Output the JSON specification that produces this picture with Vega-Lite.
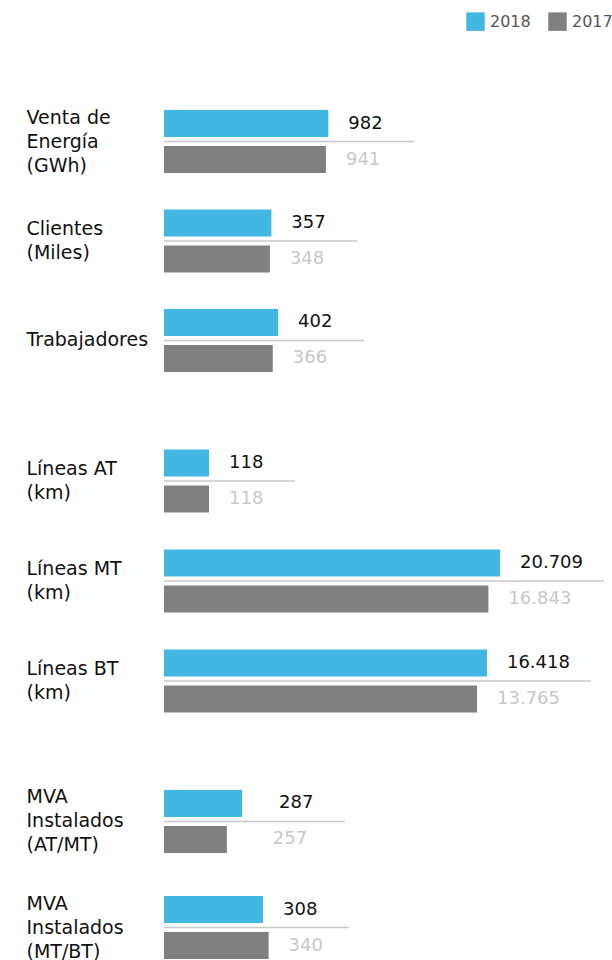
{
  "$schema": "https://vega.github.io/schema/vega-lite/v6.json",
  "padding": {"left": 26, "top": 12, "right": 0, "bottom": 0},
  "background": "white",
  "bounds": "flush",
  "spacing": 77.5,
  "data": {
    "values": [
      {"group": 1, "cat": "Venta de|Energía|(GWh)", "year": "2018", "value": 982, "barValue": 982},
      {"group": 1, "cat": "Venta de|Energía|(GWh)", "year": "2017", "value": 941, "barValue": 941},
      {"group": 1, "cat": "Clientes|(Miles)", "year": "2018", "value": 357, "barValue": 357},
      {"group": 1, "cat": "Clientes|(Miles)", "year": "2017", "value": 348, "barValue": 348},
      {"group": 1, "cat": "Trabajadores", "year": "2018", "value": 402, "barValue": 402},
      {"group": 1, "cat": "Trabajadores", "year": "2017", "value": 366, "barValue": 366},
      {"group": 2, "cat": "Líneas AT|(km)", "year": "2018", "value": 118, "barValue": 118},
      {"group": 2, "cat": "Líneas AT|(km)", "year": "2017", "value": 118, "barValue": 118},
      {"group": 2, "cat": "Líneas MT|(km)", "year": "2018", "value": 20709, "barValue": 20709},
      {"group": 2, "cat": "Líneas MT|(km)", "year": "2017", "value": 16843, "barValue": 16843},
      {"group": 2, "cat": "Líneas BT|(km)", "year": "2018", "value": 16418, "barValue": 16418},
      {"group": 2, "cat": "Líneas BT|(km)", "year": "2017", "value": 13765, "barValue": 13765},
      {"group": 3, "cat": "MVA|Instalados|(AT/MT)", "year": "2018", "value": 287, "barValue": 212},
      {"group": 3, "cat": "MVA|Instalados|(AT/MT)", "year": "2017", "value": 257, "barValue": 162},
      {"group": 3, "cat": "MVA|Instalados|(MT/BT)", "year": "2018", "value": 308, "barValue": 308},
      {"group": 3, "cat": "MVA|Instalados|(MT/BT)", "year": "2017", "value": 340, "barValue": 340}
    ]
  },
  "vconcat": [
    {
      "width": 440,
      "height": 262,
      "transform": [{"filter": "datum.group == 1"}],
      "encoding": {
        "y": {"field": "cat", "type": "nominal", "sort": null, "scale": {"paddingInner": 0.3668, "paddingOuter": 0},
          "axis": {"title": null, "domain": false, "ticks": false, "labelAlign": "left", "labelBaseline": "middle", "labelPadding": 138, "labelFont": "DejaVu Sans", "labelFontSize": 19, "labelColor": "#111111", "labelLineHeight": 24, "labelExpr": "split(datum.value, '|')", "labelLimit": 0, "labelOffset": {"expr": "-(length(split(datum.value, '|')) - 1) * 12"}}}
      },
      "layer": [
        {
          "mark": {"type": "bar", "height": 27},
          "encoding": {
            "x": {"field": "barValue", "type": "quantitative", "scale": {"type": "log", "domain": [53.06, 131200], "nice": false}, "axis": null},
            "x2": {"value": 0},
            "yOffset": {"value": 0},
            "color": {"field": "year", "type": "nominal", "sort": ["2018", "2017"], "scale": {"domain": ["2018", "2017"], "range": ["#42B7E3", "#808080"]},
              "legend": {"title": null, "orient": "none", "legendX": 302, "legendY": -98, "direction": "horizontal", "symbolType": "square", "symbolSize": 342, "symbolStrokeWidth": 0, "labelFont": "DejaVu Sans", "labelFontSize": 16, "labelColor": "#555555", "labelOffset": 5, "columnPadding": 17}},
            "opacity": {"value": 0}
          }
        },
        {
          "transform": [{"filter": "datum.year == '2018'"}],
          "mark": {"type": "rule", "strokeWidth": 27, "strokeCap": "butt", "yOffset": -18, "color": "#42B7E3"},
          "encoding": {"x": {"field": "barValue", "type": "quantitative", "axis": null}, "x2": {"value": 0}}
        },
        {
          "transform": [{"filter": "datum.year == '2017'"}],
          "mark": {"type": "rule", "strokeWidth": 27, "strokeCap": "butt", "yOffset": 18, "color": "#808080"},
          "encoding": {"x": {"field": "barValue", "type": "quantitative", "axis": null}, "x2": {"value": 0}}
        },
        {
          "transform": [{"filter": "datum.year == '2018' && datum.value < 1000"}],
          "mark": {"type": "rule", "color": "#c8c8c8", "strokeWidth": 1.5, "xOffset": 86},
          "encoding": {"x": {"field": "value", "type": "quantitative", "axis": null}, "x2": {"value": 0}}
        },
        {
          "transform": [{"filter": "datum.year == '2018' && datum.value >= 1000"}],
          "mark": {"type": "rule", "color": "#c8c8c8", "strokeWidth": 1.5, "xOffset": 104},
          "encoding": {"x": {"field": "value", "type": "quantitative", "axis": null}, "x2": {"value": 0}}
        },
        {
          "transform": [{"filter": "datum.year == '2018'"}],
          "mark": {"type": "text", "align": "left", "baseline": "middle", "dx": 20, "yOffset": -18, "font": "DejaVu Sans", "fontSize": 18, "color": "#111111"},
          "encoding": {
            "x": {"field": "value", "type": "quantitative", "axis": null},
            "text": {"field": "value", "type": "quantitative", "format": ",d"}
          }
        },
        {
          "transform": [{"filter": "datum.year == '2017'"}],
          "mark": {"type": "text", "align": "left", "baseline": "middle", "dx": 20, "yOffset": 18, "font": "DejaVu Sans", "fontSize": 18, "color": "#c8c8c8"},
          "encoding": {
            "x": {"field": "value", "type": "quantitative", "axis": null},
            "text": {"field": "value", "type": "quantitative", "format": ",d"}
          }
        }
      ]
    },
    {
      "width": 440,
      "height": 263,
      "transform": [{"filter": "datum.group == 2"}],
      "encoding": {
        "y": {"field": "cat", "type": "nominal", "sort": null, "scale": {"paddingInner": 0.37, "paddingOuter": 0},
          "axis": {"title": null, "domain": false, "ticks": false, "labelAlign": "left", "labelBaseline": "middle", "labelPadding": 138, "labelFont": "DejaVu Sans", "labelFontSize": 19, "labelColor": "#111111", "labelLineHeight": 24, "labelExpr": "split(datum.value, '|')", "labelLimit": 0, "labelOffset": {"expr": "-(length(split(datum.value, '|')) - 1) * 12"}}}
      },
      "layer": [
        {
          "transform": [{"filter": "datum.year == '2018'"}],
          "mark": {"type": "rule", "strokeWidth": 27, "strokeCap": "butt", "yOffset": -18, "color": "#42B7E3"},
          "encoding": {"x": {"field": "barValue", "type": "quantitative", "scale": {"type": "log", "domain": [53.06, 131200], "nice": false}, "axis": null}, "x2": {"value": 0}}
        },
        {
          "transform": [{"filter": "datum.year == '2017'"}],
          "mark": {"type": "rule", "strokeWidth": 27, "strokeCap": "butt", "yOffset": 18, "color": "#808080"},
          "encoding": {"x": {"field": "barValue", "type": "quantitative", "axis": null}, "x2": {"value": 0}}
        },
        {
          "transform": [{"filter": "datum.year == '2018' && datum.value < 1000"}],
          "mark": {"type": "rule", "color": "#c8c8c8", "strokeWidth": 1.5, "xOffset": 86},
          "encoding": {"x": {"field": "value", "type": "quantitative", "axis": null}, "x2": {"value": 0}}
        },
        {
          "transform": [{"filter": "datum.year == '2018' && datum.value >= 1000"}],
          "mark": {"type": "rule", "color": "#c8c8c8", "strokeWidth": 1.5, "xOffset": 104},
          "encoding": {"x": {"field": "value", "type": "quantitative", "axis": null}, "x2": {"value": 0}}
        },
        {
          "transform": [{"filter": "datum.year == '2018'"}],
          "mark": {"type": "text", "align": "left", "baseline": "middle", "dx": 20, "yOffset": -18, "font": "DejaVu Sans", "fontSize": 18, "color": "#111111"},
          "encoding": {
            "x": {"field": "value", "type": "quantitative", "axis": null},
            "text": {"field": "value", "type": "quantitative", "format": ",d"}
          }
        },
        {
          "transform": [{"filter": "datum.year == '2017'"}],
          "mark": {"type": "text", "align": "left", "baseline": "middle", "dx": 20, "yOffset": 18, "font": "DejaVu Sans", "fontSize": 18, "color": "#c8c8c8"},
          "encoding": {
            "x": {"field": "value", "type": "quantitative", "axis": null},
            "text": {"field": "value", "type": "quantitative", "format": ",d"}
          }
        }
      ]
    },
    {
      "width": 440,
      "height": 169,
      "transform": [{"filter": "datum.group == 3"}],
      "encoding": {
        "y": {"field": "cat", "type": "nominal", "sort": null, "scale": {"paddingInner": 0.4057, "paddingOuter": 0},
          "axis": {"title": null, "domain": false, "ticks": false, "labelAlign": "left", "labelBaseline": "middle", "labelPadding": 138, "labelFont": "DejaVu Sans", "labelFontSize": 19, "labelColor": "#111111", "labelLineHeight": 24, "labelExpr": "split(datum.value, '|')", "labelLimit": 0, "labelOffset": {"expr": "-(length(split(datum.value, '|')) - 1) * 12"}}}
      },
      "layer": [
        {
          "transform": [{"filter": "datum.year == '2018'"}],
          "mark": {"type": "rule", "strokeWidth": 27, "strokeCap": "butt", "yOffset": -18, "color": "#42B7E3"},
          "encoding": {"x": {"field": "barValue", "type": "quantitative", "scale": {"type": "log", "domain": [53.06, 131200], "nice": false}, "axis": null}, "x2": {"value": 0}}
        },
        {
          "transform": [{"filter": "datum.year == '2017'"}],
          "mark": {"type": "rule", "strokeWidth": 27, "strokeCap": "butt", "yOffset": 18, "color": "#808080"},
          "encoding": {"x": {"field": "barValue", "type": "quantitative", "axis": null}, "x2": {"value": 0}}
        },
        {
          "transform": [{"filter": "datum.year == '2018' && datum.value < 1000"}],
          "mark": {"type": "rule", "color": "#c8c8c8", "strokeWidth": 1.5, "xOffset": 86},
          "encoding": {"x": {"field": "value", "type": "quantitative", "axis": null}, "x2": {"value": 0}}
        },
        {
          "transform": [{"filter": "datum.year == '2018' && datum.value >= 1000"}],
          "mark": {"type": "rule", "color": "#c8c8c8", "strokeWidth": 1.5, "xOffset": 104},
          "encoding": {"x": {"field": "value", "type": "quantitative", "axis": null}, "x2": {"value": 0}}
        },
        {
          "transform": [{"filter": "datum.year == '2018'"}],
          "mark": {"type": "text", "align": "left", "baseline": "middle", "dx": 20, "yOffset": -18, "font": "DejaVu Sans", "fontSize": 18, "color": "#111111"},
          "encoding": {
            "x": {"field": "value", "type": "quantitative", "axis": null},
            "text": {"field": "value", "type": "quantitative", "format": ",d"}
          }
        },
        {
          "transform": [{"filter": "datum.year == '2017'"}],
          "mark": {"type": "text", "align": "left", "baseline": "middle", "dx": 20, "yOffset": 18, "font": "DejaVu Sans", "fontSize": 18, "color": "#c8c8c8"},
          "encoding": {
            "x": {"field": "value", "type": "quantitative", "axis": null},
            "text": {"field": "value", "type": "quantitative", "format": ",d"}
          }
        }
      ]
    }
  ],
  "config": {
    "view": {"stroke": null},
    "locale": {"number": {"decimal": ",", "thousands": ".", "grouping": [3], "currency": ["$", ""]}}
  }
}
